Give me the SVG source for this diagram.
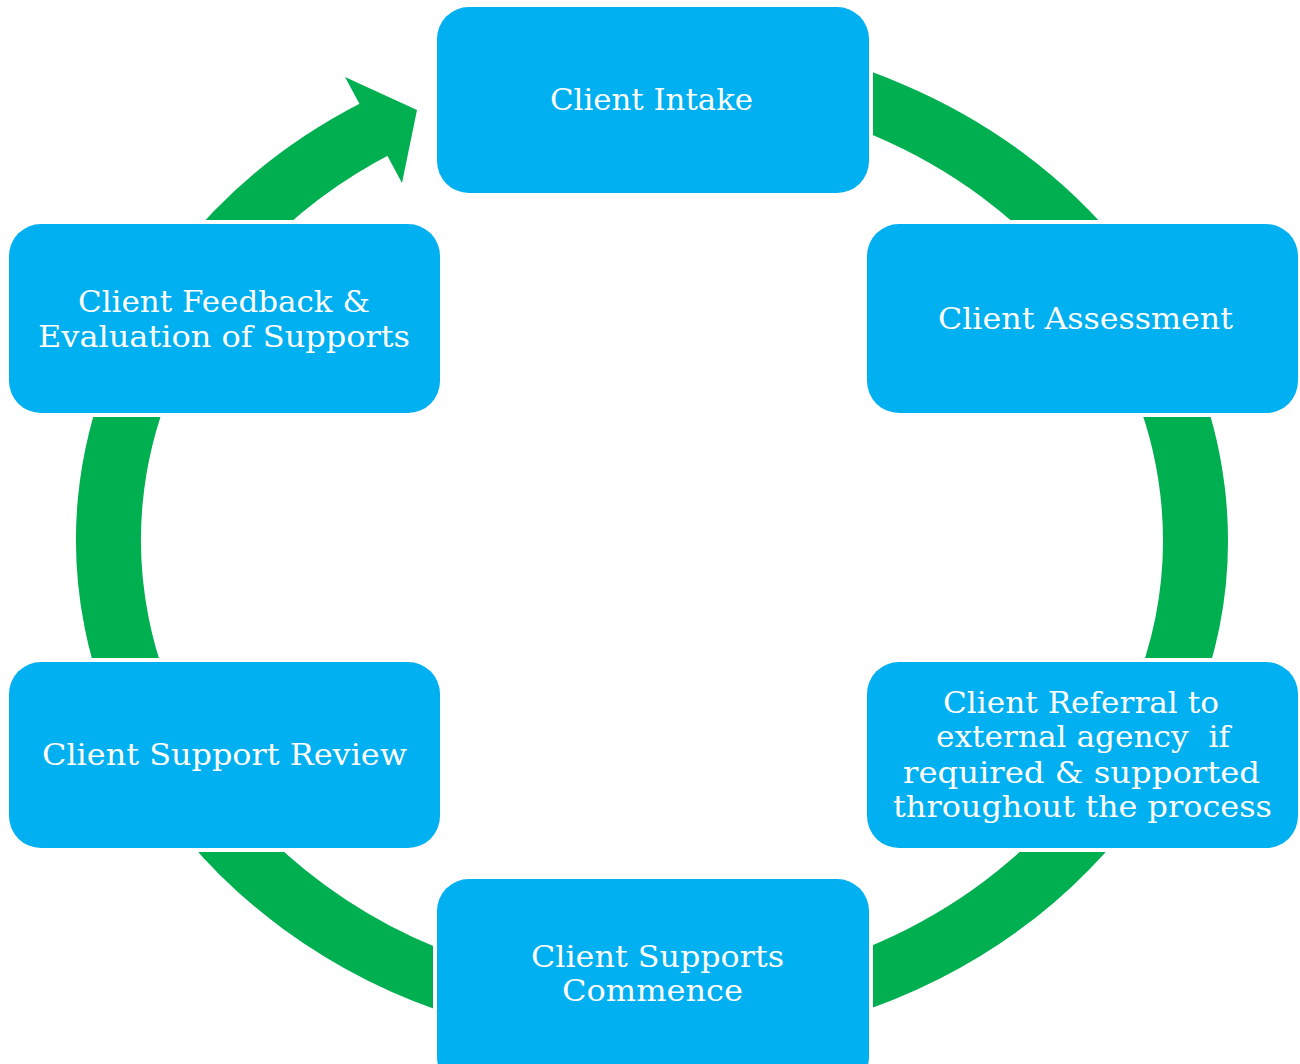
<svg xmlns="http://www.w3.org/2000/svg" width="1300" height="1064" viewBox="0 0 1300 1064">
  <style>
    .box { fill: #00B0F0; stroke: #FFFFFF; stroke-width: 8; paint-order: stroke; }
    .lbl { font-family: "DejaVu Serif", "Liberation Serif", serif; font-size: 30px; fill: #FFFFFF; text-anchor: middle; }
    .ring { fill: none; stroke: #00B050; stroke-width: 65; }
    .head { fill: #00B050; }
  </style>
  <rect width="1300" height="1064" fill="#FFFFFF"/>

  <!-- Cycle band: one open elliptical ring running clockwise, ending in an arrowhead at the top left -->
  <g id="connectors">
    <g transform="translate(652 540) scale(1 0.879)">
      <path class="ring" d="M 0 -543.5 A 543.5 543.5 0 1 1 -274.2 -469.3"/>
    </g>
    <polygon class="head" points="345,77 417,110 402,183"/>
  </g>

  <g id="node-intake">
    <rect class="box" x="437" y="7" width="432" height="186" rx="32"/>
    <text class="lbl" x="651.5" y="110" textLength="203" lengthAdjust="spacingAndGlyphs">Client Intake</text>
  </g>

  <g id="node-assessment">
    <rect class="box" x="867" y="224" width="431" height="189" rx="32"/>
    <text class="lbl" x="1085.5" y="329" textLength="295" lengthAdjust="spacingAndGlyphs">Client Assessment</text>
  </g>

  <g id="node-referral">
    <rect class="box" x="867" y="662" width="431" height="186" rx="32"/>
    <text class="lbl" x="1081" y="713" textLength="276" lengthAdjust="spacingAndGlyphs">Client Referral to</text>
    <text class="lbl" x="1083" y="747" textLength="294" lengthAdjust="spacingAndGlyphs" xml:space="preserve">external agency  if</text>
    <text class="lbl" x="1081.5" y="783" textLength="357" lengthAdjust="spacingAndGlyphs">required &amp; supported</text>
    <text class="lbl" x="1082.5" y="817" textLength="379" lengthAdjust="spacingAndGlyphs">throughout the process</text>
  </g>

  <g id="node-commence">
    <rect class="box" x="437" y="879" width="432" height="210" rx="32"/>
    <text class="lbl" x="657.5" y="967" textLength="253" lengthAdjust="spacingAndGlyphs">Client Supports</text>
    <text class="lbl" x="652.5" y="1001" textLength="181" lengthAdjust="spacingAndGlyphs">Commence</text>
  </g>

  <g id="node-review">
    <rect class="box" x="9" y="662" width="431" height="186" rx="32"/>
    <text class="lbl" x="224.5" y="765" textLength="365" lengthAdjust="spacingAndGlyphs">Client Support Review</text>
  </g>

  <g id="node-feedback">
    <rect class="box" x="9" y="224" width="431" height="189" rx="32"/>
    <text class="lbl" x="224" y="312" textLength="292" lengthAdjust="spacingAndGlyphs">Client Feedback &amp;</text>
    <text class="lbl" x="224" y="347" textLength="372" lengthAdjust="spacingAndGlyphs">Evaluation of Supports</text>
  </g>
</svg>
